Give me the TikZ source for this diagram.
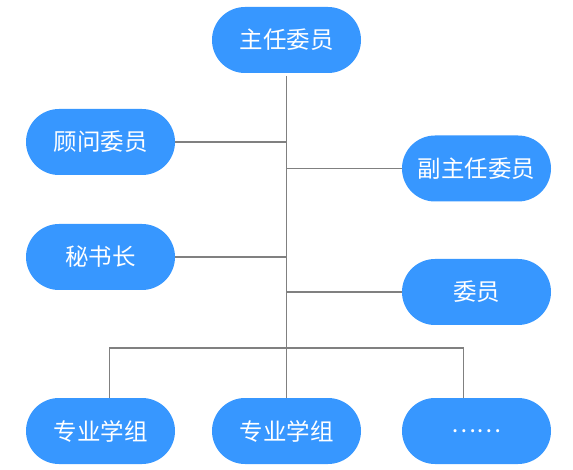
\documentclass[tikz,border=0pt]{standalone}
\usepackage{fontspec}
\setmainfont{Noto Sans CJK SC}
\definecolor{nodeblue}{HTML}{3797FF}
\definecolor{linegray}{HTML}{808080}
\begin{document}
\begin{tikzpicture}[x=1pt,y=-1pt,
  box/.style={fill=nodeblue, draw=none, rounded corners=33pt, minimum width=149pt, minimum height=66pt, text=white, font=\fontsize{23.5}{27}\selectfont, inner sep=0pt},
  conn/.style={draw=linegray, line width=1.3pt}]
\useasboundingbox (0,0) rectangle (573,470);
\node[box] (zr) at (286.5,40) {主任委员};
\node[box] (gw) at (100.5,142) {顾问委员};
\node[box] (fz) at (476.5,168.5) {副主任委员};
\node[box] (ms) at (100.5,257) {秘书长};
\node[box] (wy) at (476.5,292) {委员};
\node[box] (z1) at (100.5,431) {专业学组};
\node[box] (z2) at (286.5,431) {专业学组};
\node[box] (z3) at (476.5,431) {……};
\coordinate (top) at (286.5,76);
\coordinate (hub) at (286.5,348);
\coordinate (hl) at (109.5,348);
\coordinate (hr) at (463.5,348);
\draw[conn] (top) -- (z2.north);
\draw[conn] (gw.east) -- (gw.east -| top);
\draw[conn] (ms.east) -- (ms.east -| top);
\draw[conn] (fz.west) -- (fz.west -| top);
\draw[conn] (wy.west) -- (wy.west -| top);
\draw[conn] (hl |- z1.north) -- (hl) -- (hr) -- (hr |- z3.north);
\end{tikzpicture}
\end{document}
